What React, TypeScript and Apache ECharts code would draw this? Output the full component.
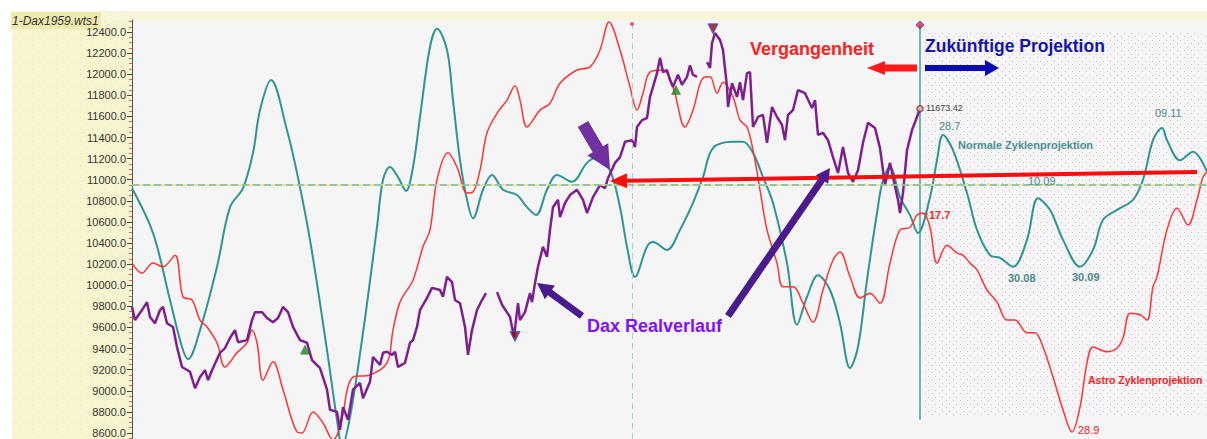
import React, { useEffect, useRef } from 'react';
import * as echarts from 'echarts';

// Time index (trading-day steps) vs. DAX points
const normalCycle: [number, number][] = [
  [0,10920],[21,10495],[38,9860],[50,9415],[56,9300],[68,9575],[85,10175],[98,10740],[111,10920],[121,11255],
  [128,11660],[139,11945],[155,11470],[165,11065],[178,10430],[195,9385],[205,8725],[210,8480],[218,8750],[231,9550],
  [245,10550],[251,11000],[258,11120],[266,11025],[274,10895],[281,11120],[288,11595],[298,12260],[305,12430],[315,12230],
  [321,11755],[328,11185],[335,10810],[341,10635],[351,10905],[360,11045],[371,10905],[385,10855],[395,10740],[404,10665],
  [415,10905],[425,11045],[440,10980],[455,11160],[466,11215],[478,11090],[488,10740],[495,10365],[503,10080],[515,10365],
  [521,10410],[535,10335],[548,10525],[561,10780],[571,11025],[581,11300],[601,11360],[611,11360],[621,11255],[631,11025],
  [641,10780],[655,10210],[665,9625],[675,9890],[686,10095],[698,9955],[708,9640],[718,9215],[726,9415],[735,10050],
  [745,10685],[751,11000],[758,11120],[768,10835],[778,10665],[786,10495],[798,10835],[805,11185],[811,11425],[821,11280],
  [835,10875],[845,10525],[858,10285],[868,10260],[881,10175],[895,10430],[906,10825],[918,10715],[931,10430],[948,10175],
  [961,10335],[971,10620],[985,10715],[1001,10810],[1011,11000],[1021,11375],[1030,11490],[1035,11375],[1048,11185],[1061,11265],
  [1075,11075]
];

const astroCycle: [number, number][] = [
  [0,10210],[10,10115],[21,10210],[31,10175],[43,10285],[51,9890],[60,9860],[68,9670],[75,9605],[85,9455],
  [93,9225],[105,9360],[115,9455],[120,9575],[125,9455],[131,9100],[141,9275],[151,9010],[165,8610],[170,8600],
  [181,8800],[191,8695],[201,8535],[208,8655],[221,9130],[238,9150],[255,9265],[261,9575],[268,9840],[281,10050],
  [291,10365],[298,10525],[305,11000],[316,11255],[325,11120],[335,10875],[341,10885],[348,11090],[355,11445],[365,11630],
  [375,11755],[383,11890],[388,11755],[395,11500],[408,11660],[418,11725],[428,11915],[445,12040],[458,12070],[468,12230],
  [477,12495],[488,12230],[498,11880],[505,11660],[511,11820],[518,12020],[531,12040],[541,11880],[553,11500],[561,11660],
  [571,11965],[578,11975],[585,11820],[591,11925],[601,11785],[608,11565],[615,11500],[621,11280],[628,10905],[635,10525],
  [645,10210],[651,9985],[661,9985],[671,9830],[681,9650],[691,9955],[701,10240],[708,10315],[718,10080],[728,9880],
  [738,9925],[748,9830],[758,10210],[768,10525],[778,10550],[785,10665],[791,10685],[798,10550],[805,10210],[815,10380],
  [825,10305],[831,10285],[838,10210],[845,10145],[855,9955],[865,9840],[875,9670],[883,9670],[895,9550],[903,9550],
  [911,9415],[921,9130],[931,8820],[940,8610],[948,8845],[955,9265],[961,9415],[975,9370],[985,9405],[991,9500],
  [998,9735],[1008,9720],[1015,9670],[1021,9985],[1025,10080],[1035,10525],[1045,10730],[1056,10570],[1065,10810],[1071,11025],
  [1075,11075]
];

const daxReal: [number, number | string][] = [
  [0,9795],[3,9670],[10,9765],[15,9840],[18,9700],[23,9640],[28,9765],[31,9795],[35,9640],[41,9605],
  [45,9415],[50,9225],[58,9180],[63,9025],[68,9130],[73,9195],[76,9100],[80,9195],[88,9360],[93,9405],
  [98,9500],[103,9575],[106,9460],[115,9480],[120,9670],[123,9745],[130,9745],[135,9690],[141,9650],[146,9690],
  [151,9795],[156,9745],[161,9605],[168,9480],[175,9455],[180,9290],[188,9215],[195,9010],[198,8820],[205,8800],
  [208,8630],[211,8845],[216,8725],[221,9010],[228,9075],[231,8930],[238,9085],[241,9320],[248,9245],[251,9360],
  [255,9370],[260,9340],[263,9370],[266,9225],[273,9265],[278,9455],[281,9480],[285,9605],[288,9765],[295,9880],
  [300,9975],[308,9955],[311,9890],[315,10080],[320,10030],[323,9860],[328,9830],[333,9605],[336,9340],[340,9575],
  [345,9765],[350,9860],[354,9925],[360,'-'],[365,9935],[370,9815],[378,9700],[382,9510],[386,9830],[388,9670],
  [393,9745],[398,9925],[400,9840],[403,10020],[406,10175],[411,10365],[415,10270],[418,10525],[421,10740],[426,10810],
  [428,10645],[433,10780],[438,10855],[445,10905],[451,10810],[455,10685],[461,10835],[468,10950],[473,10920],[476,11015],
  [483,11160],[488,11215],[493,11360],[500,11375],[503,11310],[505,11500],[510,11565],[515,11585],[518,11785],[521,11880],
  [525,12010],[528,12155],[531,12020],[535,12040],[538,11945],[541,11880],[546,11995],[550,11900],[555,11975],[558,12085],
  [561,11995],[565,11975],[570,'-'],[575,12115],[578,12060],[580,12295],[583,12390],[588,12325],[591,12230],[595,11880],
  [596,11690],[600,11915],[605,11785],[608,11925],[611,11755],[615,12010],[618,12020],[621,11500],[626,11595],[631,11615],
  [635,11350],[640,11690],[645,11595],[650,11520],[653,11375],[656,11615],[661,11660],[666,11850],[673,11820],[680,11680],
  [683,11755],[686,11425],[691,11445],[696,11375],[701,11215],[706,11065],[711,11310],[716,11065],[721,10980],[726,11090],
  [731,11350],[736,11540],[743,11490],[748,11300],[751,11090],[753,10950],[758,11160],[761,11025],[766,10810],[768,10685],
  [771,10875],[775,11280],[780,11470],[783,11545],[788,11673.42]
];

const buySignals: [number, number][] = [[173, 9390], [544, 11850]];
const sellSignals: [number, number][] = [[383, 9515], [581, 12430]];
const lastClose: [number, number][] = [[788, 11673.42]];
const todayLine: [number, number][] = [[788, 12466], [788, 8725]];
const todayMarker: [number, number][] = [[788, 12466]];
const midMarker: [number, number][] = [[500, 12476]];
const midLineT = 500;
const supportLevel = 10950;

const yTickLabels = [8600, 8800, 9000, 9200, 9400, 9600, 9800, 10000, 10200, 10400, 10600, 10800, 11000, 11200, 11400, 11600, 11800, 12000, 12200, 12400];
const yMinorTicks = [8550, 8650, 8700, 8750, 8850, 8900, 8950, 9050, 9100, 9150, 9250, 9300, 9350, 9450, 9500, 9550, 9650, 9700, 9750, 9850, 9900, 9950, 10050, 10100, 10150, 10250, 10300, 10350, 10450, 10500, 10550, 10650, 10700, 10750, 10850, 10900, 10950, 11050, 11100, 11150, 11250, 11300, 11350, 11450, 11500, 11550, 11650, 11700, 11750, 11850, 11900, 11950, 12050, 12100, 12150, 12250, 12300, 12350, 12450, 12500];

const Y_MIN = 8543;
const Y_MAX = 12514;
const T_MAX = 1075;

const FONT = '"Liberation Sans", Arial, sans-serif';

function arrowPts(x1: number, y1: number, x2: number, y2: number, sw: number, hl: number, hw: number) {
  const dx = x2 - x1, dy = y2 - y1;
  const L = Math.hypot(dx, dy);
  const ux = dx / L, uy = dy / L;
  const nx = -uy, ny = ux;
  const bx = x2 - ux * hl, by = y2 - uy * hl;
  return [
    [x1 + nx * sw / 2, y1 + ny * sw / 2],
    [bx + nx * sw / 2, by + ny * sw / 2],
    [bx + nx * hw / 2, by + ny * hw / 2],
    [x2, y2],
    [bx - nx * hw / 2, by - ny * hw / 2],
    [bx - nx * sw / 2, by - ny * sw / 2],
    [x1 - nx * sw / 2, y1 - ny * sw / 2],
  ];
}

function dotCanvas(w: number, h: number, color: string, dots: [number, number][]) {
  const c = document.createElement('canvas');
  c.width = w; c.height = h;
  const ctx = c.getContext('2d');
  if (ctx) {
    ctx.fillStyle = color;
    dots.forEach(([x, y]) => ctx.fillRect(x, y, 1, 1));
  }
  return c;
}

export default function App() {
  const ref = useRef<HTMLDivElement>(null);
  useEffect(() => {
    if (!ref.current) return;
    const chart = echarts.init(ref.current, null, { renderer: 'svg' });

    const pinkDots = dotCanvas(7, 7, '#e2b2e2', [[1, 1], [4, 5]]);
    const yellowDots = dotCanvas(12, 12, '#ece39c', [[2, 3], [8, 9]]);

    const txt = (text: string, x: number, y: number, size: number, color: string, weight = 'normal', style = 'normal') => ({
      type: 'text', x, y, z: 20,
      style: { text, fill: color, fontSize: size, fontWeight: weight, fontStyle: style, fontFamily: FONT, verticalAlign: 'middle', align: 'left' },
    });
    const poly = (pts: number[][], color: string) => ({
      type: 'polygon', z: 20, shape: { points: pts }, style: { fill: color },
    });

    const graphic: any[] = [
      { type: 'rect', z: -5, shape: { x: 12, y: 11, width: 120, height: 428 }, style: { fill: '#f7f5cf' } },
      { type: 'rect', z: -4, shape: { x: 12, y: 11, width: 120, height: 428 }, style: { fill: { image: yellowDots, repeat: 'repeat', imageWidth: 12, imageHeight: 12 } as any } },
      { type: 'rect', z: -5, shape: { x: 12, y: 11, width: 1195, height: 9 }, style: { fill: '#f7f6d8' } },
      { type: 'rect', z: -3, shape: { x: 11, y: 12, width: 90, height: 17 }, style: { fill: '#efe9ae' } },
      { type: 'rect', z: 1, shape: { x: 922, y: 30, width: 285, height: 388 }, style: { fill: { image: pinkDots, repeat: 'repeat', imageWidth: 7, imageHeight: 7 } as any } },
      txt('1-Dax1959.wts1', 12, 21, 12, '#333333', 'normal', 'italic'),
      // arrows
      poly(arrowPts(917, 68, 867, 68, 7, 18, 14), '#ff1a1a'),
      poly(arrowPts(925, 68, 999, 68, 6, 14, 16), '#0a0ab4'),
      poly(arrowPts(1197, 172, 610, 181, 4, 17, 15), '#ff0d0d'),
      poly(arrowPts(583, 124, 610, 170, 12, 24, 24), '#7030a0'),
      poly(arrowPts(582, 316, 537, 283, 7, 16, 17), '#4b1a8c'),
      poly(arrowPts(728, 316, 830, 168, 7, 14, 15), '#4b1a8c'),
      // annotations
      txt('Vergangenheit', 750, 49, 18, '#ff2020', 'bold'),
      txt('Zukünftige Projektion', 925, 46, 17.5, '#1414b0', 'bold'),
      txt('Dax Realverlauf', 587, 326, 18, '#8010ff', 'bold'),
      txt('11673.42', 926, 108, 9, '#444444'),
      txt('28.7', 939, 126, 11, '#3d8a8a'),
      txt('Normale Zyklenprojektion', 958, 145, 11, '#4a9090', 'bold'),
      txt('10.09', 1028, 181, 11, '#4a8a8a'),
      txt('30.08', 1008, 278, 11, '#4a8a8a', 'bold'),
      txt('30.09', 1072, 277, 11, '#4a8a8a', 'bold'),
      txt('09.11', 1155, 113, 11, '#4a8a8a'),
      { type: 'line', z: 20, shape: { x1: 923, y1: 214, x2: 928, y2: 214 }, style: { stroke: '#ff2020', lineWidth: 1 } },
      txt('17.7', 929, 215, 11, '#ff2020', 'bold'),
      txt('Astro Zyklenprojektion', 1088, 380, 10.5, '#ff2020', 'bold'),
      txt('28.9', 1078, 430, 11, '#ff2020'),
    ];

    const option: any = {
      animation: false,
      grid: { left: 132, right: 0, top: 20, bottom: 0, show: true, backgroundColor: '#f5f5f5', borderWidth: 0 },
      xAxis: { type: 'value', min: 0, max: T_MAX, show: false },
      yAxis: [
        {
          type: 'value', min: Y_MIN, max: Y_MAX, position: 'left',
          axisLine: { show: true, lineStyle: { color: '#555555', width: 1 } },
          axisTick: { show: true, length: 5, customValues: yTickLabels, lineStyle: { color: '#444444' } },
          axisLabel: { customValues: yTickLabels, formatter: (v: number) => v.toFixed(1), color: '#333333', fontSize: 11, fontFamily: FONT, margin: 6 },
          splitLine: { show: false },
        },
        {
          type: 'value', min: Y_MIN, max: Y_MAX, position: 'left',
          axisLine: { show: false },
          axisTick: { show: true, length: 3, customValues: yMinorTicks, lineStyle: { color: '#e06060' } },
          axisLabel: { show: false },
          splitLine: { show: false },
        },
      ],
      graphic,
      series: [
        {
          type: 'line', name: 'Normale Zyklenprojektion', data: normalCycle, smooth: 0.35, symbol: 'none', z: 3,
          lineStyle: { color: '#2e9595', width: 2 },
          markLine: {
            silent: true, symbol: 'none', label: { show: false },
            data: [
              { yAxis: supportLevel, lineStyle: { color: '#e6e27a', width: 1.5, type: 'solid' } },
              { xAxis: midLineT, lineStyle: { color: '#a6d2cf', width: 1, type: [6, 4] } },
            ],
          },
        },
        {
          type: 'line', name: 'Support', data: [], symbol: 'none',
          markLine: {
            silent: true, symbol: 'none', label: { show: false },
            data: [{ yAxis: supportLevel, lineStyle: { color: '#78b8b8', width: 1.5, type: [7, 4] } }],
          },
        },
        {
          type: 'line', name: 'Astro Zyklenprojektion', data: astroCycle, smooth: 0.35, symbol: 'none', z: 3,
          lineStyle: { color: '#ff3333', width: 1.5 },
        },
        {
          type: 'line', name: 'Heute', data: todayLine, symbol: 'none', z: 2,
          lineStyle: { color: '#6fb7b7', width: 2 },
        },
        {
          type: 'line', name: 'Dax Realverlauf', data: daxReal, symbol: 'none', z: 4, connectNulls: false,
          lineStyle: { color: '#7f1f8f', width: 2.5 },
        },
        {
          type: 'scatter', data: buySignals, symbol: 'triangle', symbolSize: 9, z: 5,
          itemStyle: { color: '#1c8a1c', borderColor: '#0d5a0d', borderWidth: 0.5 },
        },
        {
          type: 'scatter', data: sellSignals, symbol: 'triangle', symbolRotate: 180, symbolSize: 10, z: 5,
          itemStyle: { color: '#8b0a0a', borderColor: '#3050ff', borderWidth: 1 },
        },
        {
          type: 'scatter', data: lastClose, symbol: 'circle', symbolSize: 6, z: 6,
          itemStyle: { color: '#e8c850', borderColor: '#7f1f8f', borderWidth: 1.5 },
        },
        {
          type: 'scatter', data: todayMarker, symbol: 'diamond', symbolSize: 8, z: 6,
          itemStyle: { color: '#ff2020', borderColor: '#2040ff', borderWidth: 1 },
        },
        {
          type: 'scatter', data: midMarker, symbol: 'circle', symbolSize: 4, z: 6,
          itemStyle: { color: '#ff3030' },
        },
      ],
    };
    chart.setOption(option);
    return () => chart.dispose();
  }, []);

  return <div ref={ref} style={{ position: 'absolute', left: 0, top: 0, width: 1207, height: 439, background: '#ffffff' }} />;
}
